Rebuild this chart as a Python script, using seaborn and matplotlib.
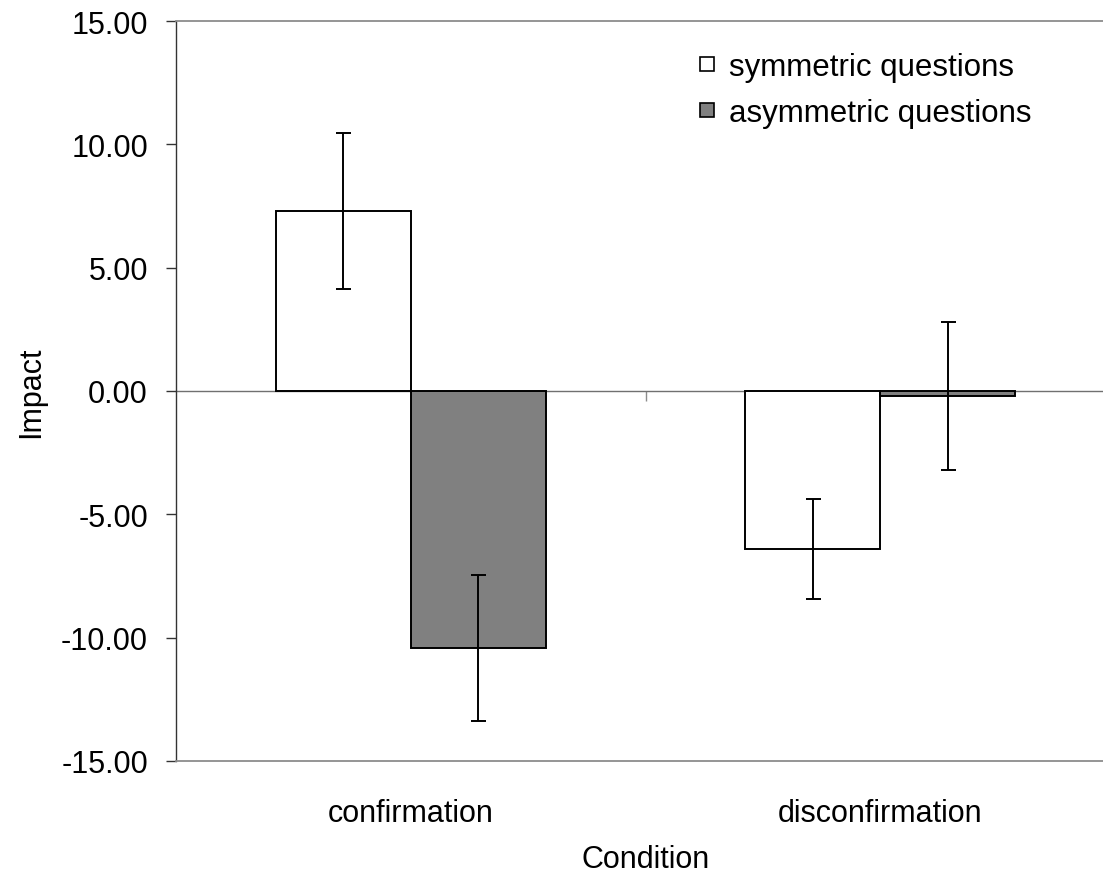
import numpy as np
import pandas as pd
import seaborn as sns
import matplotlib
matplotlib.use("Agg")
import matplotlib.pyplot as plt
from matplotlib.lines import Line2D
from matplotlib.ticker import FormatStrFormatter

# data
conditions = ["confirmation", "disconfirmation"]
question_types = ["symmetric questions", "asymmetric questions"]
symmetric_means = [7.30, -6.40]
asymmetric_means = [-10.40, -0.22]
symmetric_errors = [3.17, 2.04]
asymmetric_errors = [2.96, 3.00]
y_ticks = [-15, -10, -5, 0, 5, 10, 15]
bar_colors = ["white", "#808080"]

df = pd.DataFrame({
    "Condition": conditions * 2,
    "Type": [question_types[0]] * 2 + [question_types[1]] * 2,
    "Impact": symmetric_means + asymmetric_means,
})
errors = {question_types[0]: symmetric_errors, question_types[1]: asymmetric_errors}

sns.set_theme(style="white")
plt.rcParams["font.family"] = ["Liberation Sans", "DejaVu Sans"]
plt.rcParams["text.color"] = "black"
plt.rcParams["axes.labelcolor"] = "black"

fig = plt.figure(figsize=(11.03, 8.79), dpi=100)
ax = fig.add_axes([176 / 1103, 117 / 879, 939 / 1103, 740 / 879])

sns.barplot(data=df, x="Condition", y="Impact", hue="Type", hue_order=question_types,
            order=conditions, palette=bar_colors, edgecolor="black", linewidth=1.4,
            width=0.576, gap=0, errorbar=None, saturation=1, legend=False, ax=ax)

# error bars on top of each bar
for container, qt in zip(ax.containers, question_types):
    xs = [b.get_x() + b.get_width() / 2 for b in container]
    ys = [b.get_y() + b.get_height() for b in container]
    ax.errorbar(xs, ys, yerr=errors[qt], fmt="none", ecolor="black",
                elinewidth=1.4, capsize=5.4, capthick=1.4, zorder=5)

ax.set_xlim(-0.5, 1.5)
ax.set_ylim(-15, 15)
ax.set_yticks(y_ticks)
ax.yaxis.set_major_formatter(FormatStrFormatter("%.2f"))
ax.tick_params(axis="y", direction="out", length=7.2, width=1, color="#333333",
               pad=13, labelsize=22, left=True, labelcolor="black")
ax.tick_params(axis="x", length=0, pad=27, labelsize=22, labelcolor="black")

for side in ["top", "bottom", "right"]:
    ax.spines[side].set_color("#8c8c8c")
    ax.spines[side].set_linewidth(1.3)
ax.spines["left"].set_color("#333333")
ax.spines["left"].set_linewidth(1)

# category axis crossing at zero with a separator tick
sec = ax.secondary_xaxis(0.5)
sec.set_alignment("bottom")
sec.set_xticks([0.5])
sec.set_xticklabels([])
sec.tick_params(direction="out", length=7, width=1, color="#8c8c8c")
sec.spines["bottom"].set_color("#707070")
sec.spines["bottom"].set_linewidth(1)

ax.set_xlabel("Condition", fontsize=22, labelpad=11)
ax.set_ylabel("Impact", fontsize=22, labelpad=11)

handles = [Line2D([], [], marker="s", linestyle="none", markersize=10.5,
                  markerfacecolor=c, markeredgecolor="black", markeredgewidth=1.2)
           for c in bar_colors]
ax.legend(handles, question_types, loc="upper left",
          bbox_to_anchor=(699 / 1103, 1 - 53 / 879), bbox_transform=fig.transFigure,
          frameon=False, fontsize=22.5, handlelength=0.5, handletextpad=0.45,
          labelspacing=0.5, borderpad=0, borderaxespad=0, labelcolor="black")

fig.savefig("out.png", dpi=100)
